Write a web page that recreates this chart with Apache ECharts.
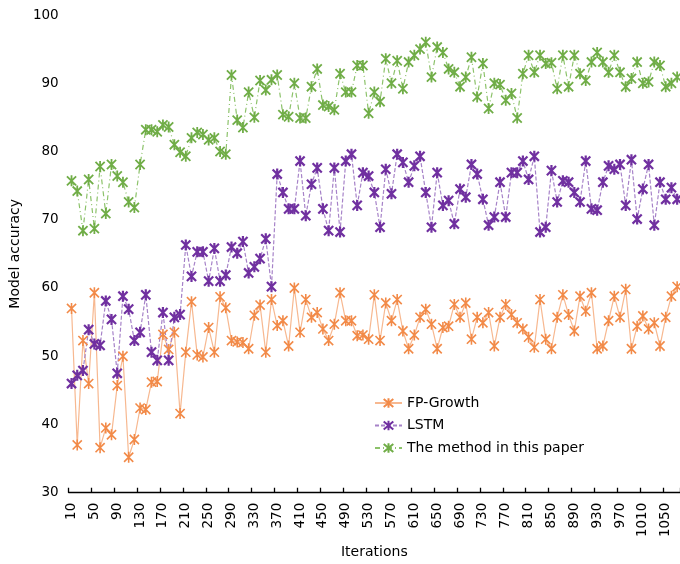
<!DOCTYPE html>
<html>
<head>
<meta charset="utf-8">
<script src="https://cdn.jsdelivr.net/npm/echarts@6/dist/echarts.min.js"></script>
<style>html,body{margin:0;padding:0;background:#fff}#c{width:680px;height:564px}</style>
</head>
<body>
<div id="c"></div>
<script>
const categories = [10,20,30,40,50,60,70,80,90,100,110,120,130,140,150,160,170,180,190,200,210,220,230,240,250,260,270,280,290,300,310,320,330,340,350,360,370,380,390,400,410,420,430,440,450,460,470,480,490,500,510,520,530,540,550,560,570,580,590,600,610,620,630,640,650,660,670,680,690,700,710,720,730,740,750,760,770,780,790,800,810,820,830,840,850,860,870,880,890,900,910,920,930,940,950,960,970,980,990,1000,1010,1020,1030,1040,1050,1060,1070];

const fpGrowth = [57,37,52.3,46,59.3,36.6,39.5,38.5,45.7,50,35.2,37.8,42.4,42.2,46.2,46.3,53.2,51,53.5,41.6,
50.6,58,50.2,49.9,54.2,50.6,58.7,57.1,52.3,52.1,52,51.1,56,57.5,50.6,58.3,54.5,55.2,51.5,60,
53.5,58.3,55.7,56.4,54,52.3,54.7,59.3,55.2,55.2,53,53.1,52.5,59,52.3,57.8,55.2,58.3,53.7,51.1,
53.1,55.7,56.9,54.7,51.1,54.2,54.4,57.6,55.7,57.8,52.5,55.7,54.9,56.4,51.5,55.7,57.6,56.1,54.9,54,
52.8,51.3,58.3,52.5,51.1,55.7,59,56.1,53.7,58.8,56.6,59.3,51.1,51.5,55.2,58.8,55.7,59.8,51.1,54.4,
55.9,54,54.9,51.5,55.7,58.8,60.2];

const lstm = [46,47.2,47.9,53.9,51.8,51.6,58.1,55.4,47.5,58.8,56.9,52.3,53.5,59,50.6,49.4,56.4,49.4,55.7,56.1,
66.3,61.7,65.3,65.3,61,65.8,61,61.9,66,65.1,66.8,62.2,63.1,64.3,67.2,60.2,76.7,74,71.6,71.6,
78.6,70.6,75.2,77.6,71.6,68.4,77.6,68.2,78.6,79.6,72.1,76.9,76.4,74,68.9,77.4,73.8,79.6,78.4,75.5,
77.9,79.3,74,68.9,76.9,72.1,72.8,69.4,74.5,73.3,78.1,76.7,73,69.2,70.4,75.5,70.4,76.9,76.9,78.6,
75.9,79.3,68.2,68.9,77.2,72.6,75.7,75.5,74,72.6,78.6,71.6,71.4,75.5,77.9,77.4,78.1,72.1,78.8,70.1,
74.5,78.1,69.2,75.5,73,74.7,73];

const proposed = [75.7,74.2,68.4,75.9,68.7,77.8,70.9,78.1,76.4,75.5,72.6,71.8,78.1,83.2,83.2,82.9,83.9,83.6,81,79.9,
79.3,82,82.8,82.5,81.7,82,80,79.6,91.2,84.6,83.5,88.7,85,90.4,89,90.5,91.2,85.4,85.1,90,
84.9,84.9,89.5,92.1,86.8,86.6,86.1,91.4,88.7,88.7,92.6,92.6,85.6,88.7,87.3,93.6,90,93.3,89.2,93.1,
94.1,95,96,90.9,95.3,94.5,92.1,91.6,89.5,90.9,93.8,88,92.9,86.3,90,89.8,87.5,88.5,84.9,91.4,
94.1,91.6,94.1,92.9,93,89.2,94.1,89.5,94.1,91.4,90.4,93.1,94.5,93.1,91.6,94.1,91.6,89.5,90.7,93.1,
90,90.2,93.1,92.6,89.5,90,90.9];

const seriesNames = ['FP-Growth','LSTM','The method in this paper'];
const yTicks = [30,40,50,60,70,80,90,100];

const FONT = 'DejaVu Sans';
const STAR = 'path://M0,0L10,10M10,0L0,10M5,-1L5,11';

function mk(name, data, color, lineColor, dash, lw, bw) {
  return {
    name: name, type: 'line', data: data,
    symbol: STAR, symbolSize: 11, symbolKeepAspect: true, showAllSymbol: true,
    itemStyle: {color: color, borderColor: color, borderWidth: bw},
    lineStyle: {color: lineColor, width: lw, type: dash},
    emphasis: {disabled: true},
    animation: false
  };
}

const chart = echarts.init(document.getElementById('c'), null, {renderer: 'canvas'});
chart.setOption({
  backgroundColor: '#fff',
  animation: false,
  grid: {left: 68, right: 0, top: 15, bottom: 66.5, containLabel: false},
  legend: {
    orient: 'vertical', left: 369, top: 391,
    itemWidth: 27, itemHeight: 12, itemGap: 8.5,
    textStyle: {fontFamily: FONT, fontSize: 14, color: '#000'},
    data: seriesNames
  },
  xAxis: {
    type: 'category', data: categories, boundaryGap: true,
    name: 'Iterations', nameLocation: 'middle', nameGap: 47,
    nameTextStyle: {fontFamily: FONT, fontSize: 14, color: '#000'},
    axisLine: {lineStyle: {color: '#000', width: 1.3}},
    axisTick: {show: true, inside: true, length: 5, interval: 3, lineStyle: {color: '#000', width: 1.3}},
    axisLabel: {interval: 3, rotate: 90, margin: 10, fontFamily: FONT, fontSize: 13.5, color: '#000'},
    splitLine: {show: false}
  },
  yAxis: {
    type: 'value', min: yTicks[0], max: yTicks[yTicks.length-1], interval: 10,
    name: 'Model accuracy', nameLocation: 'middle', nameGap: 41,
    nameTextStyle: {fontFamily: FONT, fontSize: 14, color: '#000'},
    axisLine: {show: false}, axisTick: {show: false},
    axisLabel: {margin: 10, fontFamily: FONT, fontSize: 13.5, color: '#000'},
    splitLine: {show: false}
  },
  series: [
    mk(seriesNames[0], fpGrowth, '#F28A48', '#F7B890', 'solid', 1.2, 1.6),
    mk(seriesNames[1], lstm, '#7030A0', '#A682C8', [4,2], 1.2, 2.2),
    mk(seriesNames[2], proposed, '#70AD47', '#8CC26A', [5,3,1,3], 1.2, 1.8)
  ]
});
</script>
</body>
</html>
